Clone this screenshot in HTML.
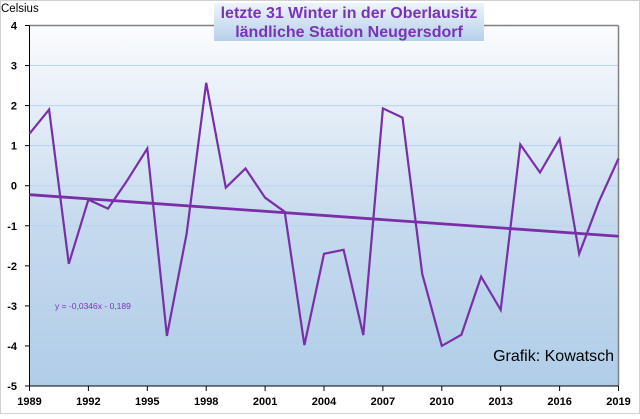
<!DOCTYPE html>
<html><head><meta charset="utf-8"><style>
body{margin:0;width:640px;height:414px;overflow:hidden;background:#fff;font-family:"Liberation Sans",sans-serif}
</style></head><body>
<svg id="chart" width="640" height="414" xmlns="http://www.w3.org/2000/svg">
<defs>
<linearGradient id="bg" x1="0" y1="0" x2="0" y2="1">
<stop offset="0" stop-color="#fbfcfe"/><stop offset="0.55" stop-color="#c6daee"/><stop offset="1" stop-color="#b0cde8"/>
</linearGradient>
<linearGradient id="tb" x1="0" y1="0" x2="0" y2="1">
<stop offset="0" stop-color="#eef4fb"/><stop offset="1" stop-color="#b5d0ec"/>
</linearGradient>
</defs>
<rect x="0.5" y="0.5" width="639" height="413" fill="#fff" stroke="#d0d0d0"/>
<rect x="29.5" y="25.5" width="589" height="361" fill="url(#bg)"/>
<g id="grid"></g>
<line x1="29.5" y1="25.5" x2="618.5" y2="25.5" stroke="#808080" stroke-width="1.5"/>
<line x1="618.5" y1="25.5" x2="618.5" y2="386" stroke="#808080" stroke-width="1.5"/>
<line x1="29.5" y1="25.5" x2="29.5" y2="386" stroke="#000"/>
<line x1="29.5" y1="386" x2="618.5" y2="386" stroke="#000"/>
<g id="ticks"></g>
<g id="marks"></g>
<text x="1" y="12" font-size="11.5" fill="#000">Celsius</text>
<rect x="214" y="3" width="270" height="38" fill="url(#tb)"/>
<text x="349" y="18" font-size="16" font-weight="bold" fill="#7a33b5" text-anchor="middle">letzte 31 Winter in der Oberlausitz</text>
<text x="349" y="37" font-size="16" font-weight="bold" fill="#7a33b5" text-anchor="middle">ländliche Station Neugersdorf</text>
<text x="55" y="309" font-size="8.5" fill="#7a33b5">y = -0,0346x - 0,189</text>
<text x="614" y="361" font-size="16" fill="#000" text-anchor="end">Grafik: Kowatsch</text>
</svg>
<script>
const years=[1989,1990,1991,1992,1993,1994,1995,1996,1997,1998,1999,2000,2001,2002,2003,2004,2005,2006,2007,2008,2009,2010,2011,2012,2013,2014,2015,2016,2017,2018,2019];
const temps=[1.3,1.9,-1.95,-0.35,-0.57,0.15,0.93,-3.75,-1.2,2.57,-0.05,0.43,-0.3,-0.65,-3.98,-1.7,-1.6,-3.73,1.93,1.7,-2.2,-4.0,-3.72,-2.27,-3.1,1.03,0.33,1.17,-1.7,-0.4,0.68];
const yTicks=[4,3,2,1,0,-1,-2,-3,-4,-5];
const xTicks=[1989,1992,1995,1998,2001,2004,2007,2010,2013,2016,2019];
const trendSlope=-0.0346, trendIntercept=-0.189;
const NS="http://www.w3.org/2000/svg";
const X=y=>29.5+(y-1989)*(589/30);
const Y=v=>25.5+(4-v)*(360.5/9);
function mk(t,a,p){const e=document.createElementNS(NS,t);for(const k in a)e.setAttribute(k,a[k]);p.appendChild(e);return e;}
const grid=document.getElementById('grid'),ticks=document.getElementById('ticks'),marks=document.getElementById('marks');
yTicks.forEach(v=>{
  if(v<4&&v>-5){const g=mk('line',{x1:30,x2:618,y1:Y(v),y2:Y(v),stroke:'#b9d3ee','stroke-width':1},grid);
  
  }
  const tk=mk('line',{x1:25,x2:29.5,y1:Y(v),y2:Y(v),stroke:'#000'},ticks);
  
  
  const t=mk('text',{x:17,y:Y(v)+4,'font-size':11,'font-weight':'bold','text-anchor':'end'},ticks);
  t.textContent=v;
  
  
});
xTicks.forEach(yr=>{
  const tk=mk('line',{x1:X(yr),x2:X(yr),y1:386,y2:391,stroke:'#000'},ticks);
  
  
  const t=mk('text',{x:X(yr),y:405,'font-size':11,'font-weight':'bold','text-anchor':'middle'},ticks);
  t.textContent=yr;
  
  
});
const pts=years.map((yr,i)=>X(yr).toFixed(1)+','+Y(temps[i]).toFixed(1)).join(' ');
const line=mk('polyline',{points:pts,fill:'none',stroke:'#7a2fa8','stroke-width':2.2,'stroke-linejoin':'miter'},marks);


const n=years.length;
const tr=mk('line',{x1:X(years[0]),y1:Y(trendSlope*1+trendIntercept),x2:X(years[n-1]),y2:Y(trendSlope*n+trendIntercept),stroke:'#7a2fa8','stroke-width':2.8},marks);


</script>
</body></html>
